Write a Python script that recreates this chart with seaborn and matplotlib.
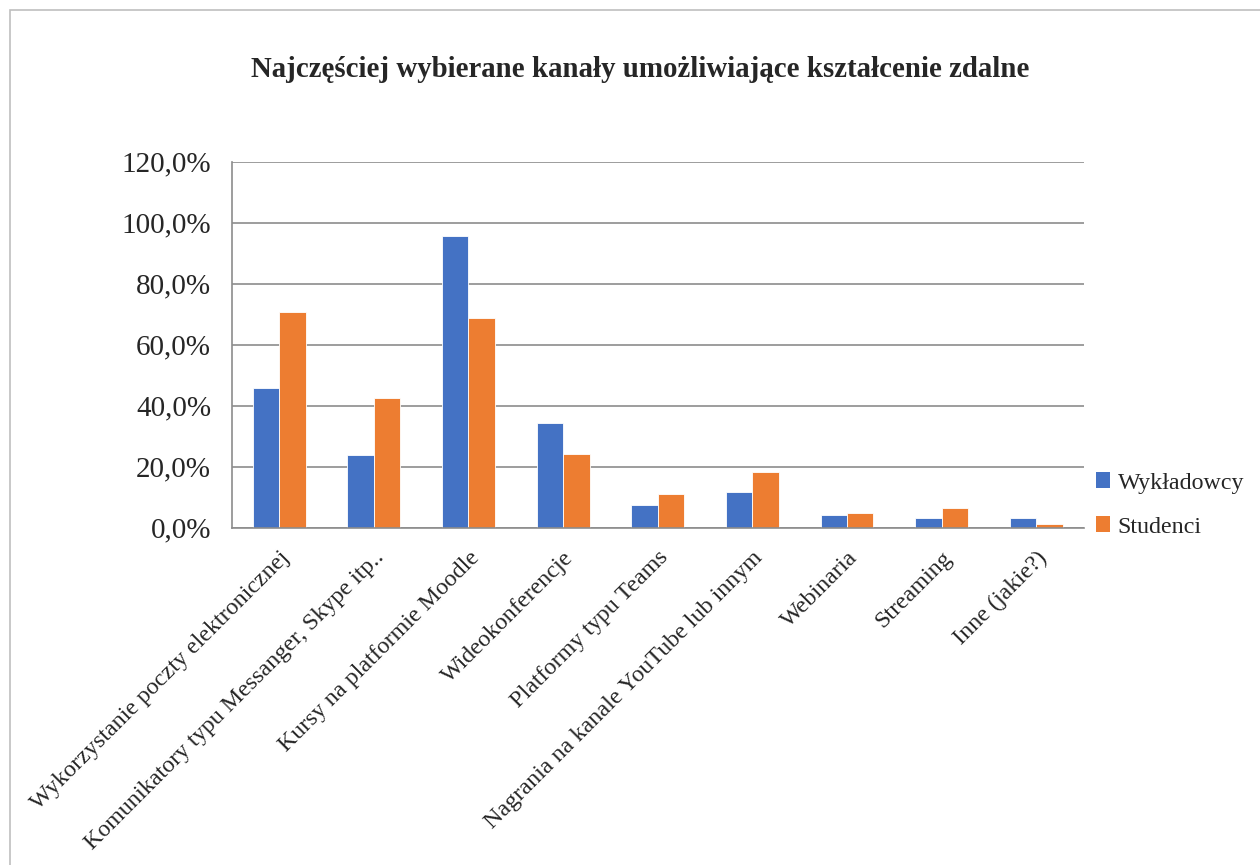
import matplotlib.pyplot as plt
import pandas as pd
import seaborn as sns
from matplotlib.patches import Rectangle
from matplotlib.ticker import FuncFormatter

categories = [
    "Wykorzystanie poczty elektronicznej",
    "Komunikatory typu Messanger, Skype itp..",
    "Kursy na platformie Moodle",
    "Wideokonferencje",
    "Platformy typu Teams",
    "Nagrania na kanale YouTube lub innym",
    "Webinaria",
    "Streaming",
    "Inne (jakie?)",
]
wykladowcy = [45.8, 23.9, 95.7, 34.4, 7.3, 11.6, 4.2, 3.2, 3.2]
studenci = [70.8, 42.4, 68.9, 24.2, 10.9, 18.4, 4.7, 6.3, 1.2]
series = ["Wykładowcy", "Studenci"]
colors = ["#4472C4", "#ED7D31"]

df = pd.DataFrame({
    "kanal": categories * 2,
    "grupa": [series[0]] * len(categories) + [series[1]] * len(categories),
    "procent": wykladowcy + studenci,
})

sns.set_style("white")
plt.rcParams["font.family"] = ["Liberation Serif", "DejaVu Serif"]

fig = plt.figure(figsize=(12.6, 8.65), dpi=100)
ax = fig.add_axes([0.184, 0.39, 0.676, 0.423])

sns.barplot(
    data=df, x="kanal", y="procent", hue="grupa",
    palette=colors, saturation=1, width=0.56, gap=0, ax=ax,
    edgecolor="white", linewidth=0.6,
)

ax.set_ylim(0, 120)
ax.set_yticks(range(0, 121, 20))
ax.yaxis.set_major_formatter(FuncFormatter(lambda v, p: f"{v:.1f}%".replace(".", ",")))
ax.grid(axis="y", color="#8c8c8c", linewidth=1.2)
ax.set_axisbelow(True)
for s in ["top", "right"]:
    ax.spines[s].set_visible(False)
for s in ["left", "bottom"]:
    ax.spines[s].set_color("#8c8c8c")
    ax.spines[s].set_linewidth(1.2)
ax.tick_params(axis="both", length=0)
ax.tick_params(axis="y", labelsize=21, pad=15)
ax.tick_params(axis="x", pad=14)
ax.set_xlabel("")
ax.set_ylabel("")
ax.set_xticks(range(len(categories)))
ax.set_xticklabels(categories, rotation=45, ha="right", va="top",
                   rotation_mode="anchor", fontsize=17.3)

fig.suptitle("Najczęściej wybierane kanały umożliwiające kształcenie zdalne",
             x=0.508, y=0.935, fontsize=20.8, fontweight="bold")

leg = ax.legend(
    loc="center left", bbox_to_anchor=(1096 / 1260, 1 - 505 / 865),
    bbox_transform=fig.transFigure, frameon=False, borderaxespad=0, borderpad=0,
    fontsize=17.3, handlelength=0.6, handleheight=0.6, handletextpad=0.3,
    labelspacing=0.95,
)
for h in leg.legend_handles:
    h.set_edgecolor("none")

fig.patches.append(Rectangle((0.008, -0.1), 1.2, 1.088, transform=fig.transFigure,
                             fill=False, edgecolor="#bfbfbf", linewidth=1.2))

fig.savefig("out.png", dpi=100)
